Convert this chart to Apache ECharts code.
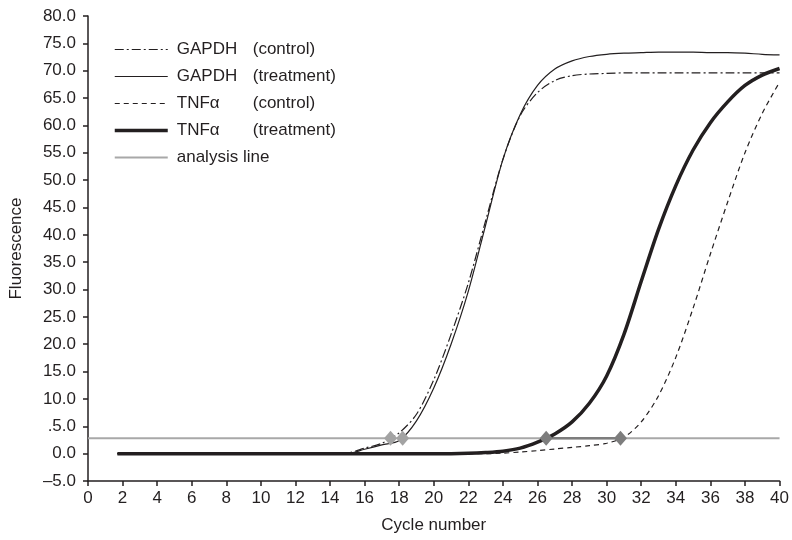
<!DOCTYPE html>
<html>
<head>
<meta charset="utf-8">
<script src="https://cdn.jsdelivr.net/npm/echarts@6/dist/echarts.min.js"></script>
<style>
  html, body { margin: 0; padding: 0; background: #fff; }
  #chart { width: 792px; height: 540px; }
</style>
</head>
<body>
<div id="chart"></div>
<script>
// x values (cycle number) shared by the four curves
const cycles = [1.7, 4, 8, 12, 14, 15, 16, 17, 18, 19, 20, 21, 22, 23, 24, 25, 26, 27, 28, 29, 30, 31, 32, 33, 34, 35, 36, 37, 38, 39, 40];
// fluorescence
const gapdhControl   = [0, 0, 0, 0, 0, 0.1, 1.0, 1.9, 3.8, 7.2, 13.5, 21.8, 31.2, 42.6, 53.8, 61.8, 66.0, 68.2, 69.1, 69.4, 69.5, 69.6, 69.6, 69.6, 69.6, 69.6, 69.6, 69.6, 69.6, 69.6, 69.6];
const gapdhTreatment = [0, 0, 0, 0, 0, 0, 0.8, 1.6, 2.4, 6.0, 12.0, 20.0, 29.7, 41.8, 53.8, 62.0, 67.3, 70.3, 71.8, 72.6, 73.0, 73.2, 73.3, 73.4, 73.4, 73.4, 73.3, 73.3, 73.2, 73.0, 72.9];
const tnfControl     = [0, 0, 0, 0, 0, 0, 0, 0, 0, 0, 0, 0, 0, 0, 0.1, 0.3, 0.55, 0.85, 1.15, 1.45, 1.9, 3.0, 5.8, 10.6, 17.6, 26.6, 36.5, 46.0, 55.0, 62.2, 67.9];
const tnfTreatment   = [0, 0, 0, 0, 0, 0, 0, 0, 0, 0, 0, 0, 0.05, 0.2, 0.45, 1.0, 2.1, 3.6, 5.8, 9.2, 14.2, 21.8, 31.5, 41.0, 49.0, 55.5, 60.5, 64.3, 67.3, 69.2, 70.4];

const analysisLevel = 2.8;
const analysisRange = [0, 40];
const ctGapdh = [17.5, 18.2];   // threshold crossings, light markers
const ctTnf = [26.5, 30.8];     // threshold crossings, dark markers

const ink = "#231f20";
const font = "'Liberation Sans', Arial, sans-serif";

function pairs(xs, ys) {
  return xs.map((x, i) => [x, ys[i]]);
}
function onLine(xs) {
  return xs.map(x => [x, analysisLevel]);
}

const chart = echarts.init(document.getElementById("chart"), null, { renderer: "canvas" });

const curve = (name, data, width, type) => ({
  name,
  type: "line",
  data: pairs(cycles, data),
  showSymbol: false,
  symbol: "none",
  smooth: 0.3,
  z: 3,
  itemStyle: { color: ink },
  lineStyle: { color: ink, width, type }
});

const noMark = { color: "rgba(0,0,0,0)", borderWidth: 0 };

chart.setOption({
  animation: false,
  color: [ink],
  textStyle: { fontFamily: font },
  grid: { left: 86, right: 11, top: 16, bottom: 59 },
  legend: {
    orient: "vertical",
    left: 108,
    top: 36,
    itemWidth: 53,
    itemHeight: 14,
    itemGap: 10,
    selectedMode: false,
    itemStyle: noMark,
    formatter(name) {
      const m = name.match(/^(\S+) (\(.+\))$/);
      return m ? "{a|" + m[1] + "}{b|" + m[2] + "}" : "{b|" + name + "}";
    },
    textStyle: {
      color: ink,
      fontSize: 17,
      padding: [0, 0, 0, 4],
      rich: {
        a: { width: 76, fontSize: 17, color: ink, fontFamily: font, lineHeight: 17 },
        b: { fontSize: 17, color: ink, fontFamily: font, lineHeight: 17 }
      }
    },
    data: [
      { name: "GAPDH (control)", itemStyle: noMark, lineStyle: { color: ink, width: 1.2, type: [9, 3, 2, 3] } },
      { name: "GAPDH (treatment)", itemStyle: noMark, lineStyle: { color: ink, width: 1.2 } },
      { name: "TNFα (control)", itemStyle: noMark, lineStyle: { color: ink, width: 1.2, type: [5, 4] } },
      { name: "TNFα (treatment)", itemStyle: noMark, lineStyle: { color: ink, width: 3.5 } },
      { name: "analysis line", itemStyle: noMark, lineStyle: { color: "#a8a8a8", width: 2 } }
    ]
  },
  xAxis: {
    type: "value",
    min: 0,
    max: 40,
    interval: 2,
    name: "Cycle number",
    nameLocation: "middle",
    nameGap: 36,
    nameTextStyle: { color: ink, fontSize: 17, fontFamily: font },
    axisLine: { onZero: false, lineStyle: { color: ink, width: 1.5 } },
    axisTick: { length: 5, lineStyle: { color: ink, width: 1.5 } },
    axisLabel: { color: ink, fontSize: 17, margin: 9 },
    splitLine: { show: false }
  },
  yAxis: {
    type: "value",
    min: -5,
    max: 80,
    interval: 5,
    name: "Fluorescence",
    nameLocation: "middle",
    nameGap: 63,
    nameTextStyle: { color: ink, fontSize: 17, fontFamily: font },
    axisLine: { show: true, lineStyle: { color: ink, width: 1.5 } },
    axisTick: { show: true, length: 5, lineStyle: { color: ink, width: 1.5 } },
    axisLabel: {
      color: ink,
      fontSize: 17,
      margin: 12,
      formatter(v) {
        if (v === 5) return ".5.0";
        if (v < 0) return "\u2013" + Math.abs(v).toFixed(1);
        return v.toFixed(1);
      }
    },
    splitLine: { show: false }
  },
  series: [
    curve("GAPDH (control)", gapdhControl, 1.2, [9, 3, 2, 3]),
    curve("GAPDH (treatment)", gapdhTreatment, 1.2, "solid"),
    curve("TNFα (control)", tnfControl, 1.2, [5, 4]),
    curve("TNFα (treatment)", tnfTreatment, 3.5, "solid"),
    {
      name: "analysis line",
      type: "line",
      data: onLine(analysisRange),
      symbol: "none",
      z: 2,
      itemStyle: { color: "#a8a8a8" },
      lineStyle: { color: "#a8a8a8", width: 2 }
    },
    {
      name: "delta",
      type: "line",
      data: onLine(ctTnf),
      symbol: "none",
      z: 2,
      lineStyle: { color: "#7d7d7d", width: 2.5 }
    },
    {
      name: "ct gapdh",
      type: "scatter",
      data: onLine(ctGapdh),
      symbol: "diamond",
      symbolSize: [13, 15],
      z: 5,
      itemStyle: { color: "#a3a3a3", opacity: 1 }
    },
    {
      name: "ct tnf",
      type: "scatter",
      data: onLine(ctTnf),
      symbol: "diamond",
      symbolSize: [13, 15],
      z: 5,
      itemStyle: { color: "#7d7d7d", opacity: 1 }
    }
  ]
});
</script>
</body>
</html>
